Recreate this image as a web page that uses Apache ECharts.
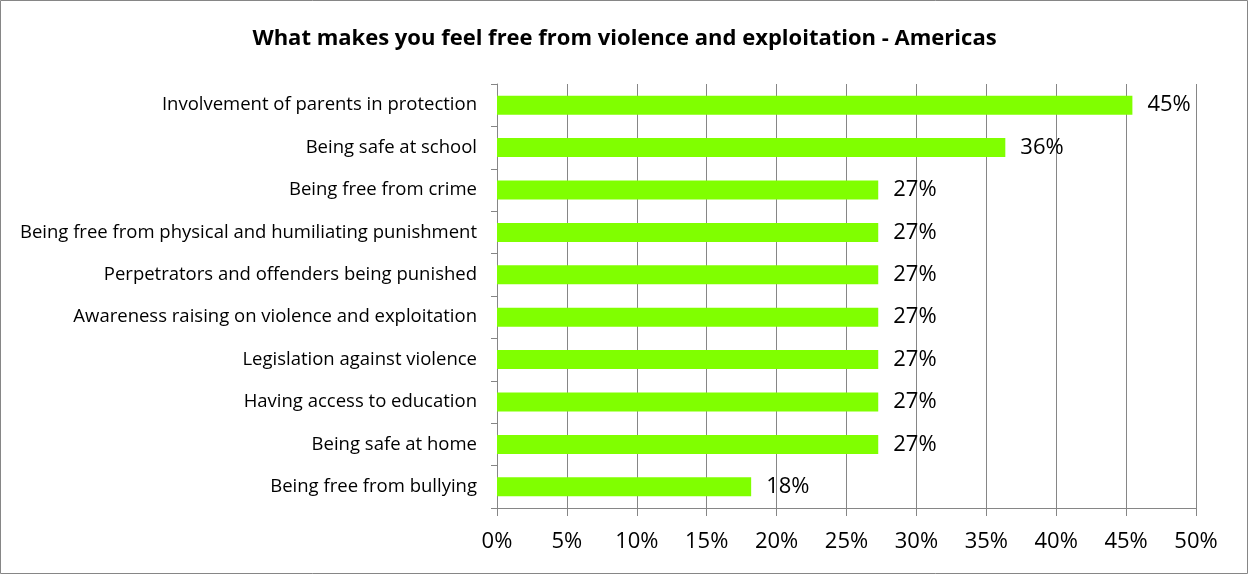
<!DOCTYPE html>
<html>
<head>
<meta charset="utf-8">
<script src="https://cdn.jsdelivr.net/npm/echarts@6/dist/echarts.min.js"></script>
<style>
  html, body { margin: 0; padding: 0; background: #fff; }
  #chart { width: 1249px; height: 575px; }
</style>
</head>
<body>
<div id="chart"></div>
<script>
// Share of respondents (%) per factor, top to bottom
const categories = [
  'Involvement of parents in protection',
  'Being safe at school',
  'Being free from crime',
  'Being free from physical and humiliating punishment',
  'Perpetrators and offenders being punished',
  'Awareness raising on violence and exploitation',
  'Legislation against violence',
  'Having access to education',
  'Being safe at home',
  'Being free from bullying'
];
const shares = [45.45, 36.36, 27.27, 27.27, 27.27, 27.27, 27.27, 27.27, 27.27, 18.18];
const xTicks = [0, 5, 10, 15, 20, 25, 30, 35, 40, 45, 50];

const FONT = '"Open Sans", sans-serif';
const GREY = '#868686';

const chart = echarts.init(document.getElementById('chart'), null, { renderer: 'canvas' });
chart.setOption({
  animation: false,
  backgroundColor: '#fff',
  title: {
    text: 'What makes you feel free from violence and exploitation - Americas',
    left: 'center',
    top: 23,
    textStyle: { fontFamily: FONT, fontSize: 22, fontWeight: 'bold', color: '#000' }
  },
  graphic: [{
    type: 'rect',
    shape: { x: 0.5, y: 0.5, width: 1247, height: 573 },
    style: { fill: 'none', stroke: GREY, lineWidth: 1 },
    silent: true
  }],
  grid: { left: 497, right: 53, top: 84, bottom: 67, containLabel: false },
  xAxis: {
    type: 'value',
    min: xTicks[0],
    max: xTicks[xTicks.length - 1],
    interval: 5,
    axisLine: { show: true, lineStyle: { color: GREY, width: 1 } },
    axisTick: { show: true, length: 8, lineStyle: { color: GREY } },
    splitLine: { show: true, lineStyle: { color: GREY, width: 1 } },
    axisLabel: {
      margin: 23,
      fontFamily: FONT, fontSize: 22, color: '#000',
      formatter: v => v + '%'
    }
  },
  yAxis: {
    type: 'category',
    inverse: true,
    data: categories,
    axisLine: { show: true, lineStyle: { color: GREY, width: 1 } },
    axisTick: { show: true, length: 6, lineStyle: { color: GREY } },
    splitLine: { show: false },
    axisLabel: { margin: 20, fontFamily: FONT, fontSize: 18.5, color: '#000', padding: [3, 0, 0, 0] }
  },
  series: [{
    type: 'bar',
    data: shares,
    barWidth: 19,
    itemStyle: { color: '#80FF00' },
    label: {
      show: true,
      position: 'right',
      distance: 15,
      fontFamily: FONT, fontSize: 22, color: '#000',
      formatter: p => Math.round(p.value) + '%'
    }
  }]
});
</script>
</body>
</html>
